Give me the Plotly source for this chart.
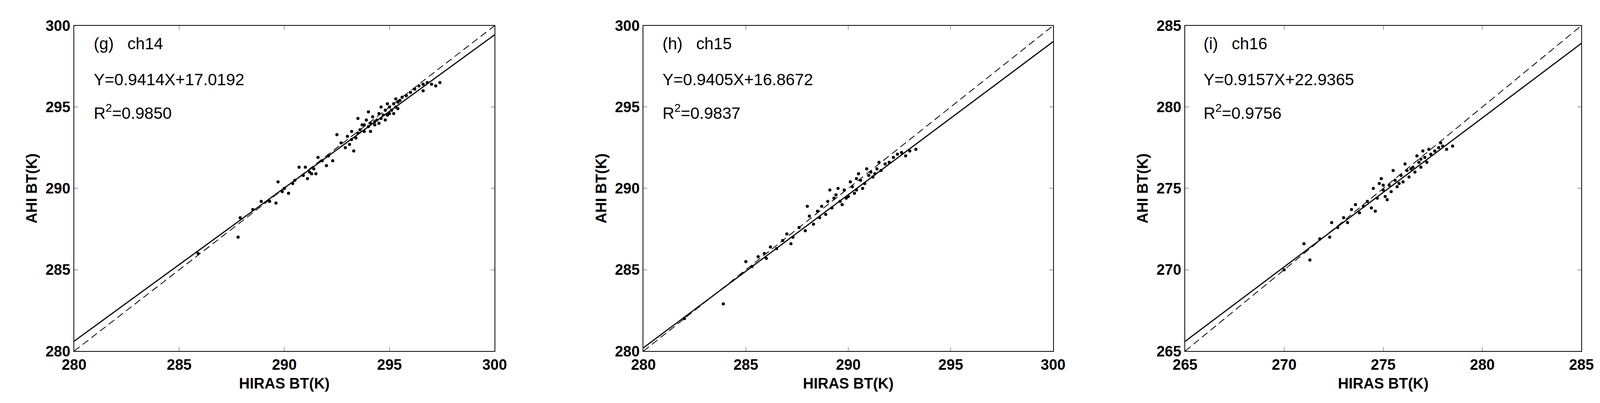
import plotly.graph_objects as go

panel_labels = ["(g)   ch14", "(h)   ch15", "(i)   ch16"]
equations = ["Y=0.9414X+17.0192", "Y=0.9405X+16.8672", "Y=0.9157X+22.9365"]
r2_text = ["R<sup>2</sup>=0.9850", "R<sup>2</sup>=0.9837", "R<sup>2</sup>=0.9756"]
slopes = [0.9414, 0.9405, 0.9157]
intercepts = [17.0192, 16.8672, 22.9365]
ranges = [[280, 300], [280, 300], [265, 285]]
tick_vals = [[280, 285, 290, 295, 300], [280, 285, 290, 295, 300], [265, 270, 275, 280, 285]]

g_pts = [(285.9,286.0),(287.8,287.0),(287.9,288.2),(288.5,288.7),(288.9,289.2),(289.3,289.2),(289.6,289.1),(289.7,290.4),(289.9,289.8),(290.0,290.0),(290.2,289.7),(290.4,290.3),(290.5,290.5),(290.7,291.3),(290.9,290.8),(291.0,291.3),(291.1,290.6),(291.2,291.0),(291.3,290.9),(291.4,291.2),(291.5,290.9),(291.6,291.9),(291.8,291.7),(292.0,291.4),(292.1,292.0),(292.3,291.7),(292.5,293.3),(292.7,292.8),(292.9,292.5),(293.0,293.2),(293.1,292.7),(293.2,293.5),(293.3,292.3),(293.4,293.1),(293.5,293.4),(293.6,293.6),(293.7,293.9),(293.8,293.5),(293.9,294.2),(294.0,293.8),(294.1,294.0),(294.2,294.4),(294.3,293.9),(294.4,294.2),(294.5,294.6),(294.6,294.3),(294.7,294.5),(294.8,294.8),(294.9,294.5),(295.0,295.0),(295.1,294.8),(295.2,295.2),(295.3,295.0),(295.4,295.3),(295.5,295.4),(295.6,295.6),(295.8,295.7),(296.0,295.9),(296.2,296.1),(296.4,296.3),(296.6,296.4),(296.8,296.5),(297.0,296.4),(297.2,296.3),(297.4,296.5),(294.0,294.7),(293.5,294.3),(294.6,295.0),(295.2,294.6),(293.2,293.0),(294.3,294.1),(294.8,294.2),(295.4,294.9),(296.6,296.0),(294.1,293.5),(294.5,294.0),(295.0,294.6),(293.8,293.9),(294.9,295.2),(295.3,295.5)]
h_pts = [(282.0,282.0),(283.9,282.9),(285.0,285.5),(285.3,285.2),(285.6,285.8),(285.9,286.0),(286.2,286.4),(286.5,286.3),(286.8,286.8),(287.0,287.2),(287.3,287.0),(287.6,287.6),(287.9,287.4),(288.1,288.3),(288.3,287.8),(288.5,288.6),(288.7,288.9),(288.9,288.4),(289.0,289.2),(289.2,288.8),(289.4,289.6),(289.6,289.2),(289.8,289.9),(290.0,289.5),(290.2,290.1),(290.4,289.9),(290.6,290.5),(290.8,290.3),(291.0,290.8),(291.2,290.7),(291.4,291.2),(291.6,291.1),(291.8,291.5),(292.0,291.6),(292.2,291.9),(292.4,292.1),(292.6,292.2),(292.8,292.0),(293.0,292.3),(293.3,292.4),(289.5,290.0),(290.5,290.9),(288.0,288.9),(289.1,289.9),(290.9,291.2),(291.5,291.6),(289.7,289.0),(290.3,289.7),(287.2,286.6),(286.0,285.7),(289.3,289.4),(290.1,290.4),(290.7,290.0),(291.1,291.0),(288.6,288.2),(289.9,289.4),(290.4,290.6),(291.3,290.9)]
i_pts = [(270.0,270.0),(271.0,271.6),(271.3,270.6),(271.8,271.9),(272.3,272.0),(272.4,272.9),(272.7,272.6),(273.0,273.2),(273.2,272.9),(273.4,273.7),(273.6,274.0),(273.8,273.5),(274.0,273.9),(274.2,274.2),(274.4,273.8),(274.5,275.0),(274.7,274.4),(274.8,275.3),(275.0,274.9),(275.1,274.5),(275.3,275.2),(275.4,274.8),(275.6,275.5),(275.7,275.1),(275.9,275.8),(276.0,275.4),(276.2,276.1),(276.3,275.7),(276.5,276.3),(276.6,276.0),(276.8,276.6),(276.9,276.3),(277.1,276.9),(277.2,276.6),(277.4,277.1),(277.6,277.3),(277.8,277.5),(278.0,277.6),(278.2,277.4),(278.5,277.6),(275.5,276.1),(276.1,276.5),(274.9,275.6),(276.7,277.0),(277.0,277.3),(275.2,274.3),(274.6,273.6),(277.9,277.8),(275.8,275.3),(276.4,276.2),(275.0,275.2),(276.9,276.8),(277.3,277.4)]
points = [g_pts, h_pts, i_pts]

domains = [[0.0363, 0.2974], [0.3898, 0.6442], [0.7261, 0.9722]]
fig = go.Figure()
font = "Liberation Sans, Arial, sans-serif"
for k in range(3):
    xa = "x" if k == 0 else f"x{k+1}"
    ya = "y" if k == 0 else f"y{k+1}"
    lo, hi = ranges[k]
    fig.add_trace(go.Scatter(x=[p[0] for p in points[k]], y=[p[1] for p in points[k]], mode="markers",
                             marker=dict(color="black", size=8), xaxis=xa, yaxis=ya, showlegend=False))
    fig.add_trace(go.Scatter(x=[lo, hi], y=[lo, hi], mode="lines", line=dict(color="black", width=2, dash="18px,10px"),
                             xaxis=xa, yaxis=ya, showlegend=False))
    fig.add_trace(go.Scatter(x=[lo, hi], y=[slopes[k]*lo+intercepts[k], slopes[k]*hi+intercepts[k]], mode="lines",
                             line=dict(color="black", width=3), xaxis=xa, yaxis=ya, showlegend=False))
    axcommon = dict(range=ranges[k], tickvals=tick_vals[k], ticks="inside", ticklen=10, showline=True,
                    linecolor="black", linewidth=2, mirror="ticks", showgrid=False, zeroline=False,
                    tickfont=dict(family=font, size=38, color="black", weight="bold"))
    fig.update_layout(**{
        ("xaxis" if k == 0 else f"xaxis{k+1}"): dict(axcommon, domain=domains[k], anchor=ya,
            title=dict(text="HIRAS BT(K)", font=dict(family=font, size=38, color="black", weight="bold"), standoff=14)),
        ("yaxis" if k == 0 else f"yaxis{k+1}"): dict(axcommon, domain=[0.121, 0.963], anchor=xa,
            title=dict(text="AHI BT(K)", font=dict(family=font, size=38, color="black", weight="bold"), standoff=10)),
    })
    for txt, yy in zip([panel_labels[k], equations[k], r2_text[k]], [0.945, 0.834, 0.735]):
        fig.add_annotation(text=txt, xref=f"{xa} domain", yref=f"{ya} domain", x=0.045, y=yy,
                           xanchor="left", yanchor="middle", showarrow=False,
                           font=dict(family=font, size=42, color="black"))

fig.update_layout(width=4187, height=1031, plot_bgcolor="white", paper_bgcolor="white",
                  margin=dict(l=0, r=0, t=0, b=0))
fig.write_html("out.html")
